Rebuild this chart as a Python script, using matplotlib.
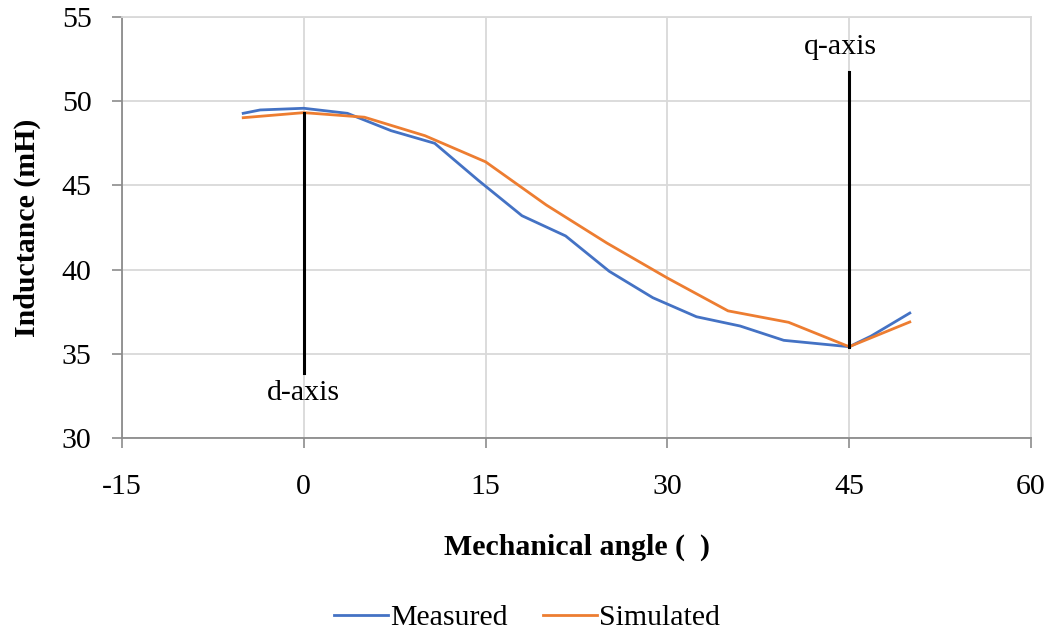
import matplotlib
matplotlib.use("Agg")
import matplotlib.pyplot as plt

# Data
measured_x = [-5, -3.6, 0, 3.6, 7.2, 10.8, 14.4, 18, 21.6, 25.2, 28.8, 32.4, 36, 39.6, 45, 46.8, 50]
measured_y = [49.28, 49.48, 49.58, 49.28, 48.25, 47.5, 45.3, 43.2, 42.0, 39.9, 38.33, 37.2, 36.65, 35.8, 35.42, 36.05, 37.42]
simulated_x = [-5, 0, 5, 10, 15, 20, 25, 30, 35, 40, 45, 50]
simulated_y = [49.02, 49.32, 49.05, 47.95, 46.4, 43.84, 41.58, 39.5, 37.55, 36.87, 35.42, 36.89]
x_ticks = [-15, 0, 15, 30, 45, 60]
y_ticks = [30, 35, 40, 45, 50, 55]

plt.rcParams['font.family'] = ['Liberation Serif', 'DejaVu Serif']
plt.rcParams['axes.unicode_minus'] = False

FS = 21.5

fig = plt.figure(figsize=(10.53, 6.37), dpi=100)
ax = fig.add_axes([122/1053, 1 - 438/637, (1031 - 122)/1053, (438 - 17)/637])

ax.plot(measured_x, measured_y, color='#4472C4', lw=2.0, label='Measured', zorder=3)
ax.plot(simulated_x, simulated_y, color='#ED7D31', lw=2.0, label='Simulated', zorder=3)

# d-axis / q-axis markers
ax.plot([0, 0], [simulated_y[1], 33.85], color='black', lw=2.2, zorder=4)
ax.plot([45, 45], [simulated_y[10], 51.75], color='black', lw=2.2, zorder=4)
ax.text(0, 32.65, 'd-axis', ha='center', va='center', fontsize=FS)
ax.text(44.3, 53.2, 'q-axis', ha='center', va='center', fontsize=FS)

ax.set_xlim(-15, 60)
ax.set_ylim(30, 55)
ax.set_xticks(x_ticks)
ax.set_yticks(y_ticks)
ax.tick_params(axis='both', labelsize=FS, length=7, width=1.2, color='#8c8c8c', direction='out')
ax.tick_params(axis='x', pad=19)
ax.tick_params(axis='y', pad=15)

ax.grid(True, color='#d9d9d9', lw=1.3, zorder=0)
ax.set_axisbelow(True)
for s in ['top', 'right']:
    ax.spines[s].set_color('#d9d9d9')
    ax.spines[s].set_linewidth(1.3)
for s in ['left', 'bottom']:
    ax.spines[s].set_color('#8c8c8c')
    ax.spines[s].set_linewidth(1.3)

ax.set_xlabel('Mechanical angle (  )', fontsize=FS, fontweight='bold', labelpad=24)
ax.set_ylabel('Inductance (mH)', fontsize=FS, fontweight='bold', labelpad=15)

fig.legend(loc='center', bbox_to_anchor=(527/1053, 1 - 618/637), ncol=2, frameon=False,
           fontsize=FS, handlelength=1.8, handletextpad=0.08, columnspacing=1.2)

fig.savefig('out.png', dpi=100)
